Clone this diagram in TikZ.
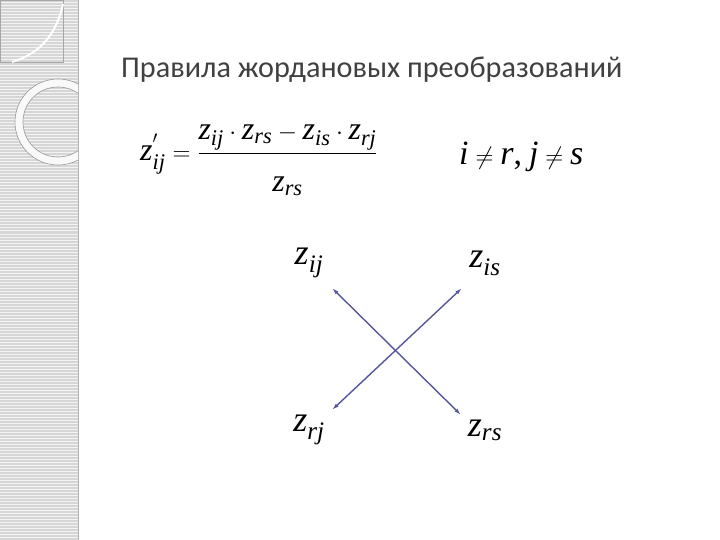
\documentclass[tikz,border=0pt]{standalone}
\usepackage{amsmath}
\usepackage{fontspec}
\newfontfamily\titlefont{Carlito}
\newfontfamily\timesfont{Liberation Serif}
\newcommand{\ti}[1]{\text{\timesfont\itshape #1}}
\newcommand{\zz}[1]{\ti{z}_{\ti{#1}}}
\usepackage{xcolor}
\usetikzlibrary{arrows.meta,calc}
\definecolor{arrowblue}{HTML}{56569C}
\definecolor{bandgray}{HTML}{D6D6D6}
\definecolor{titlegray}{HTML}{404040}
\tikzset{
  zlabel/.style={inner sep=0pt, font=\fontsize{36}{40}\selectfont},
  jordan/.style={draw=arrowblue, line width=1.4pt, {Latex[length=7pt,width=4pt]}-{Latex[length=7pt,width=4pt]}}
}

\begin{document}
\begin{tikzpicture}[x=1pt,y=-1pt]
			\useasboundingbox (0,0) rectangle (720,540);
			% Полоса слева
			\fill[bandgray] (0,0) rectangle (78,540);
			\foreach \y in {0,3,...,540}
				\draw[white!70!bandgray, line width=1pt] (0,\y) -- (78,\y);
			\draw[gray!60, line width=0.6pt] (78,0) -- (78,540);
			\draw[gray!70, line width=0.5pt] (0,0) rectangle (63,62);
			\draw[white, line width=2pt] (63,4) .. controls (55,40) and (35,55) .. (12,62);
			\begin{scope}
				\clip (0,0) rectangle (78,540);
				\draw[white!85!bandgray, line width=8pt] (58,122) circle (39);
				\draw[gray!80, line width=0.6pt] (58,122) circle (43);
				\draw[gray!80, line width=0.6pt] (58,122) circle (35);
			\end{scope}
			% Заголовок
			\node[anchor=base west, inner sep=0pt, text=titlegray, font=\titlefont\fontsize{30.2}{33}\selectfont] (title) at (121,78) {Правила жордановых преобразований};
			% Формула
			\node[anchor=west, inner sep=0pt, font=\fontsize{32}{36}\selectfont] (rule) at (140,160)
				{$\ti{z}^{\raisebox{8pt}{$\scriptscriptstyle\prime$}}_{\ti{ij}}=\dfrac{\zz{ij}\cdot\zz{rs}-\zz{is}\cdot\zz{rj}\rule[-9pt]{0pt}{10pt}}{\rule{0pt}{34pt}\zz{rs}}$};
			\node[anchor=west, inner sep=0pt, font=\fontsize{34}{38}\selectfont] (cond) at (459,157) {$\ti{i}\neq\ti{r}\text{\timesfont,}\;\ti{j}\neq\ti{s}$};
			% Схема прямоугольника
			\node[zlabel] (zij) at (309,263) {$\zz{ij}$};
			\node[zlabel] (zis) at (485,263) {$\zz{is}$};
			\node[zlabel] (zrj) at (309,430) {$\zz{rj}$};
			\node[zlabel] (zrs) at (485,430) {$\zz{rs}$};
			\draw[jordan] ($(zij.center)+(23,25)$) -- ($(zrs.center)+(-24,-15)$);
			\draw[jordan] ($(zrj.center)+(23,-20)$) -- ($(zis.center)+(-23,25)$);
		\end{tikzpicture}
\end{document}
